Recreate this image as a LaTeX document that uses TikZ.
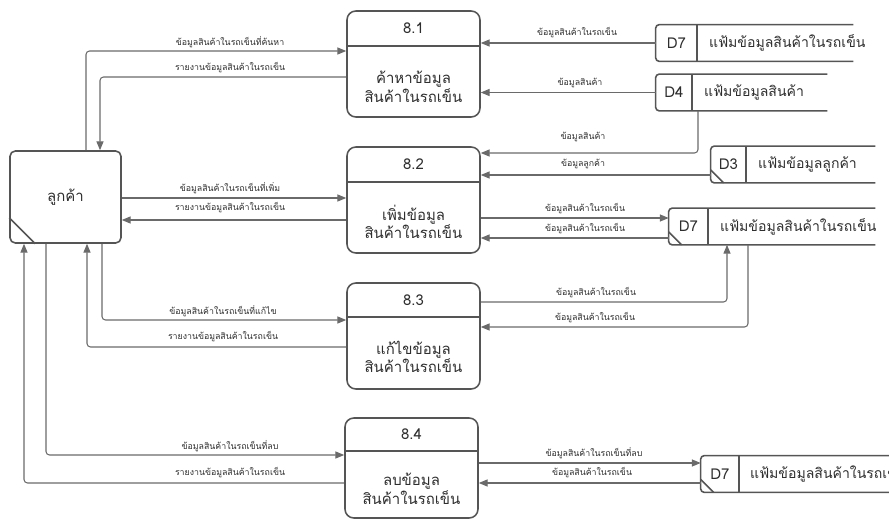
\documentclass[tikz,border=0pt]{standalone}
\usepackage{fontspec}
\setmainfont[Script=Thai]{Loma}
\usetikzlibrary{arrows.meta}
\definecolor{linegray}{HTML}{6A6A6A}
\definecolor{boxgray}{HTML}{555555}
\definecolor{txtgray}{HTML}{2E2E2E}
\tikzset{
  boxline/.style={draw=boxgray, line width=0.9pt},
  proc/.style={boxline, rounded corners=5pt, minimum width=2.66cm, minimum height=2.12cm, inner sep=0pt},
  ent/.style={boxline, rounded corners=3pt, minimum width=2.22cm, minimum height=1.84cm, inner sep=0pt, font=\fontsize{8.5}{10}\selectfont},
  store/.style={inner sep=0pt, minimum height=0.72cm},
  pnum/.style={font=\fontsize{8.5}{10}\selectfont},
  ptxt/.style={align=center, font=\fontsize{8.5}{10.5}\selectfont},
  sid/.style={font=\fontsize{8.5}{10}\selectfont},
  sname/.style={anchor=west, font=\fontsize{8}{10}\selectfont},
  lbl/.style={inner sep=0pt, font=\fontsize{5}{6}\selectfont},
  flow/.style={draw=linegray, line width=0.6pt, rounded corners=2pt, -{Triangle[length=5pt,width=4pt]}}
}
\begin{document}
\begin{tikzpicture}[x=0.02cm, y=-0.02cm, every node/.append style={text=txtgray}]
\clip (0,0) rectangle (889,520);

% external entity
\node[ent] (cust) at (65.5,197) {ลูกค้า};
\draw[boxline] ([yshift=0.52cm]cust.south west) -- ([xshift=0.52cm]cust.south west);

% processes
\node[proc] (p1) at (413.5,64) {};
\draw[boxline] (p1.west |- 0,46) -- (p1.east |- 0,46);
\node[pnum] (p1n) at (413.5,28.5) {8.1};
\node[ptxt] (p1t) at (413.5,87) {ค้าหาข้อมูล\\สินค้าในรถเข็น};

\node[proc] (p2) at (413.5,200) {};
\draw[boxline] (p2.west |- 0,182) -- (p2.east |- 0,182);
\node[pnum] (p2n) at (413.5,164.5) {8.2};
\node[ptxt] (p2t) at (413.5,222) {เพิ่มข้อมูล\\สินค้าในรถเข็น};

\node[proc] (p3) at (413.5,336) {};
\draw[boxline] (p3.west |- 0,317) -- (p3.east |- 0,317);
\node[pnum] (p3n) at (413.5,300) {8.3};
\node[ptxt] (p3t) at (413.5,357) {แก้ไขข้อมูล\\สินค้าในรถเข็น};

\node[proc, minimum height=2cm] (p4) at (411.5,468) {};
\draw[boxline] (p4.west |- 0,451) -- (p4.east |- 0,451);
\node[pnum] (p4n) at (411.5,434.5) {8.4};
\node[ptxt] (p4t) at (411.5,489) {ลบข้อมูล\\สินค้าในรถเข็น};

% data stores
\node[store, minimum width=3.94cm] (d7a) at (754.5,43) {};
\draw[boxline, rounded corners=2pt] (d7a.north east) -- (d7a.north west) -- (d7a.south west) -- (d7a.south east);
\draw[boxline] (697,0 |- d7a.north) -- (697,0 |- d7a.south);
\node[sid] (d7an) at (676.5,43) {D7};
\node[sname] (d7at) at (703,43) {แฟ้มข้อมูลสินค้าในรถเข็น};

\node[store, minimum width=3.42cm] (d4) at (741.5,92.5) {};
\draw[boxline, rounded corners=2pt] (d4.north east) -- (d4.north west) -- (d4.south west) -- (d4.south east);
\draw[boxline] (692,0 |- d4.north) -- (692,0 |- d4.south);
\node[sid] (d4n) at (674,92.5) {D4};
\node[sname] (d4t) at (698,92.5) {แฟ้มข้อมูลสินค้า};

\node[store, minimum width=3.28cm] (d3) at (793,164.5) {};
\draw[boxline, rounded corners=2pt] (d3.north east) -- (d3.north west) -- (d3.south west) -- (d3.south east);
\draw[boxline] (746,0 |- d3.north) -- (746,0 |- d3.south);
\draw[boxline] ([yshift=0.26cm]d3.south west) -- ([xshift=0.26cm]d3.south west);
\node[sid] (d3n) at (728.5,164.5) {D3};
\node[sname] (d3t) at (752,164.5) {แฟ้มข้อมูลลูกค้า};

\node[store, minimum width=4.12cm] (d7b) at (772,226.5) {};
\draw[boxline, rounded corners=2pt] (d7b.north east) -- (d7b.north west) -- (d7b.south west) -- (d7b.south east);
\draw[boxline] (708,0 |- d7b.north) -- (708,0 |- d7b.south);
\draw[boxline] ([yshift=0.26cm]d7b.south west) -- ([xshift=0.26cm]d7b.south west);
\node[sid] (d7bn) at (688.5,226.5) {D7};
\node[sname] (d7bt) at (714,226.5) {แฟ้มข้อมูลสินค้าในรถเข็น};

\node[store, minimum width=4cm] (d7c) at (801,474) {};
\draw[boxline, rounded corners=2pt] (d7c.north east) -- (d7c.north west) -- (d7c.south west) -- (d7c.south east);
\draw[boxline] (739,0 |- d7c.north) -- (739,0 |- d7c.south);
\draw[boxline] ([yshift=0.26cm]d7c.south west) -- ([xshift=0.26cm]d7c.south west);
\node[sid] (d7cn) at (720,474) {D7};
\node[sname] (d7ct) at (744,474) {แฟ้มข้อมูลสินค้าในรถเข็น};

% customer <-> processes
\draw[flow] (cust.north -| 86,0) |- (p1.west |- 0,51);
\draw[flow] (p1.west |- 0,77) -| (cust.north -| 100,0);
\node[lbl] (l1) at (230,42) {ข้อมูลสินค้าในรถเข็นที่ค้นหา};
\node[lbl] (l2) at (230,68) {รายงานข้อมูลสินค้าในรถเข็น};

\draw[flow] (cust.east |- 0,198) -- (p2.west |- 0,198);
\draw[flow] (p2.west |- 0,220) -- (cust.east |- 0,220);
\node[lbl] (l3) at (230,188) {ข้อมูลสินค้าในรถเข็นที่เพิ่ม};
\node[lbl] (l4) at (230,208) {รายงานข้อมูลสินค้าในรถเข็น};

\draw[flow] (cust.south -| 102,0) |- (p3.west |- 0,320);
\draw[flow] (p3.west |- 0,347) -| (cust.south -| 87,0);
\node[lbl] (l5) at (223,311) {ข้อมูลสินค้าในรถเข็นที่แก้ไข};
\node[lbl] (l6) at (223,337) {รายงานข้อมูลสินค้าในรถเข็น};

\draw[flow] (cust.south -| 46,0) |- (p4.west |- 0,455);
\draw[flow] (p4.west |- 0,483) -| (cust.south -| 24,0);
\node[lbl] (l7) at (230,446) {ข้อมูลสินค้าในรถเข็นที่ลบ};
\node[lbl] (l8) at (230,473) {รายงานข้อมูลสินค้าในรถเข็น};

% stores <-> processes
\draw[flow] (d7a.west) -- (p1.east |- d7a.west);
\node[lbl] (l9) at (577,33) {ข้อมูลสินค้าในรถเข็น};
\draw[flow] (d4.west) -- (p1.east |- d4.west);
\node[lbl] (l10) at (580,83) {ข้อมูลสินค้า};

\draw[flow] (d4.south -| 698,0) |- (p2.east |- 0,153);
\node[lbl] (l11) at (583,137) {ข้อมูลสินค้า};
\draw[flow] (d3.west |- 0,175) -- (p2.east |- 0,175);
\node[lbl] (l12) at (583,164) {ข้อมูลลูกค้า};
\draw[flow] (p2.east |- 0,218) -- (d7b.west |- 0,218);
\node[lbl] (l13) at (585,209) {ข้อมูลสินค้าในรถเข็น};
\draw[flow] (d7b.west |- 0,238) -- (p2.east |- 0,238);
\node[lbl] (l14) at (585,229) {ข้อมูลสินค้าในรถเข็น};

\draw[flow] (p3.east |- 0,302) -| (d7b.south -| 727,0);
\node[lbl] (l15) at (596,293) {ข้อมูลสินค้าในรถเข็น};
\draw[flow] (d7b.south -| 748,0) |- (p3.east |- 0,327);
\node[lbl] (l16) at (595,318) {ข้อมูลสินค้าในรถเข็น};

\draw[flow] (p4.east |- 0,463) -- (d7c.west |- 0,463);
\node[lbl] (l17) at (594,453) {ข้อมูลสินค้าในรถเข็นที่ลบ};
\draw[flow] (d7c.west |- 0,483) -- (p4.east |- 0,483);
\node[lbl] (l18) at (592,473) {ข้อมูลสินค้าในรถเข็น};
\end{tikzpicture}
\end{document}
